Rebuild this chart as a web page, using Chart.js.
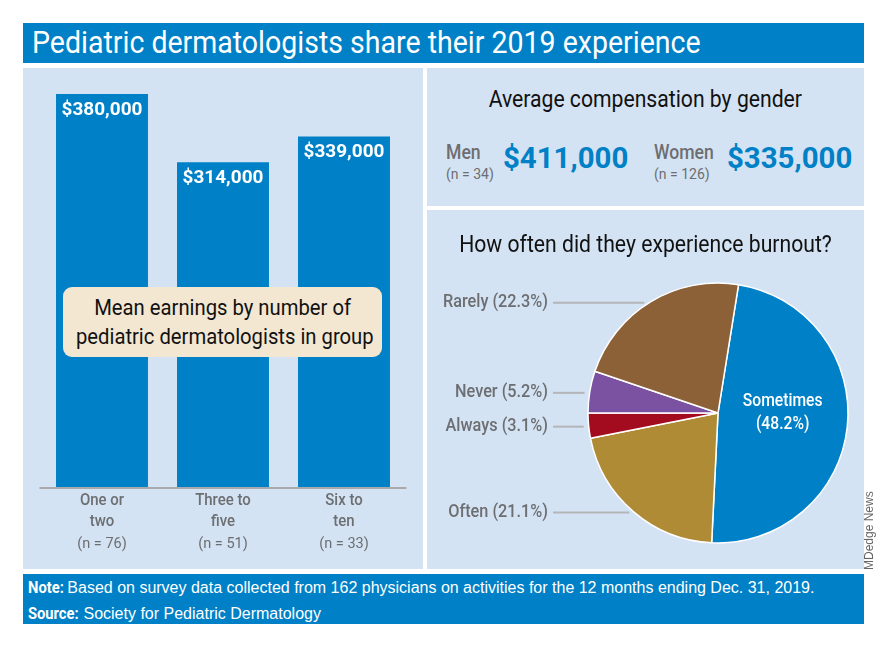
<!DOCTYPE html>
<html>
<head>
<meta charset="utf-8">
<script src="https://cdn.jsdelivr.net/npm/chart.js@4.4.1/dist/chart.umd.min.js"></script>
<style>
body { margin:0; background:#fff; }
#page { position:relative; width:888px; height:648px; overflow:hidden; font-family:Roboto,sans-serif; }
.abs { position:absolute; white-space:nowrap; }
.c { display:inline-block; transform:scaleX(0.92); transform-origin:left center; }
.cc { display:inline-block; transform:scaleX(0.92); transform-origin:center center; }
#title { left:23px; top:23px; width:841px; height:40px; background:#0080c6; color:#fff;
  font-size:31px; line-height:40px; padding-left:9px; box-sizing:border-box; }
.panel { position:absolute; background:#d4e3f3; }
#left { left:23px; top:68px; width:400px; height:501px; }
#rtop { left:427px; top:68px; width:437px; height:138px; }
#rbot { left:427px; top:210px; width:437px; height:359px; }
#foot { left:23px; top:574px; width:841px; height:50px; background:#0080c6; color:#fff;
  font-family:'Liberation Sans',Arial,sans-serif; font-size:16px; }
#foot div { position:absolute; left:5px; white-space:nowrap; }
#foot b { font-family:Roboto,sans-serif; font-weight:bold; display:inline-block; transform:scaleX(0.92); transform-origin:left center; margin-right:-4px; }
#note { left:40px; top:219px; width:319px; height:70px; background:#f3e7d2; border-radius:9px;
  font-size:22px; line-height:29px; text-align:center; color:#111; padding-top:6px; box-sizing:border-box; }
.head { width:437px; text-align:center; color:#111; font-size:23px; }
.glab { color:#6d6e71; font-size:20px; font-weight:500; }
.gn { color:#6d6e71; font-size:14px; }
.gval { color:#0080c6; font-size:30px; font-weight:bold; }
#credit { left:863px; top:570px; transform-origin:0 0; transform:rotate(-90deg);
  font-family:'Liberation Sans',Arial,sans-serif; font-size:12px; line-height:12px; color:#666; }
</style>
</head>
<body>
<div id="page">
  <div id="title" class="abs"><span class="c">Pediatric dermatologists share their 2019 experience</span></div>

  <div id="left" class="panel">
    <canvas id="barChart" width="400" height="501"></canvas>
    <div id="note" class="abs"><span class="cc">Mean earnings by number of</span><br><span class="cc">pediatric dermatologists in group</span></div>
  </div>

  <div id="rtop" class="panel">
    <div class="abs head" style="left:0;top:18px;"><span class="cc">Average compensation by gender</span></div>
    <div id="gender"></div>
  </div>

  <div id="rbot" class="panel">
    <canvas id="pieChart" width="437" height="359"></canvas>
    <div class="abs head" style="left:0;top:21px;"><span class="cc">How often did they experience burnout?</span></div>
  </div>

  <div id="foot" class="abs">
    <div style="top:4px;"><b>Note:</b> Based on survey data collected from 162 physicians on activities for the 12 months ending Dec. 31, 2019.</div>
    <div style="top:30px;"><b>Source:</b> Society for Pediatric Dermatology</div>
  </div>

  <div id="credit" class="abs">MDedge News</div>
</div>

<script>
// mean earnings by group size
var groupLabels = [['One or', 'two'], ['Three to', 'five'], ['Six to', 'ten']];
var groupN = ['(n = 76)', '(n = 51)', '(n = 33)'];
var meanEarnings = [380000, 314000, 339000];

// compensation by gender
var genderLabels = ['Men', 'Women'];
var genderN = ['(n = 34)', '(n = 126)'];
var genderPay = [411000, 335000];

// burnout frequency
var burnoutLabels = ['Sometimes', 'Often', 'Always', 'Never', 'Rarely'];
var burnoutShares = [48.2, 21.1, 3.1, 5.2, 22.3];
var burnoutColors = ['#0080c6', '#b08b36', '#a30b1f', '#7b52a1', '#8d6137'];

function money(v) {
  return '$' + v.toLocaleString('en-US');
}

// condensed text on canvas
function squeezeText(ctx, text, x, y, align, sx) {
  ctx.save();
  ctx.translate(x, y);
  ctx.scale(sx, 1);
  ctx.textAlign = align;
  ctx.fillText(text, 0, 0);
  ctx.restore();
}

// gender row
var genderX = [[19, 76], [227, 300]];
var html = '';
for (var g = 0; g < genderLabels.length; g++) {
  html += '<div class="abs glab" style="left:' + genderX[g][0] + 'px;top:72px;"><span class="c" style="transform:scaleX(0.88)">' + genderLabels[g] + '</span></div>';
  html += '<div class="abs gn" style="left:' + genderX[g][0] + 'px;top:98px;">' + genderN[g] + '</div>';
  html += '<div class="abs gval" style="left:' + genderX[g][1] + 'px;top:72px;"><span class="c" style="transform:scaleX(0.98)">' + money(genderPay[g]) + '</span></div>';
}
document.getElementById('gender').innerHTML = html;

var barText = {
  id: 'barText',
  afterDatasetsDraw: function(chart) {
    var ctx = chart.ctx;
    var area = chart.chartArea;
    var base = chart.scales.y.getPixelForValue(0);
    ctx.save();
    ctx.strokeStyle = '#a7a9ac';
    ctx.lineWidth = 2;
    ctx.beginPath();
    ctx.moveTo(area.left - 2, base + 1);
    ctx.lineTo(area.right + 2, base + 1);
    ctx.stroke();
    ctx.textBaseline = 'middle';
    chart.getDatasetMeta(0).data.forEach(function(bar, i) {
      ctx.fillStyle = '#fff';
      ctx.font = 'bold 19px Roboto';
      squeezeText(ctx, money(meanEarnings[i]), bar.x, bar.y + 16, 'center', 1);
      ctx.fillStyle = '#6d6e71';
      ctx.font = '500 17px Roboto';
      squeezeText(ctx, groupLabels[i][0], bar.x, base + 14, 'center', 0.88);
      squeezeText(ctx, groupLabels[i][1], bar.x, base + 35, 'center', 0.88);
      ctx.font = '14.5px Roboto';
      squeezeText(ctx, groupN[i], bar.x, base + 57, 'center', 1);
    });
    ctx.restore();
  }
};

new Chart(document.getElementById('barChart'), {
  type: 'bar',
  data: {
    labels: groupLabels,
    datasets: [{
      data: meanEarnings,
      backgroundColor: '#0080c6',
      barPercentage: 0.76,
      categoryPercentage: 1
    }]
  },
  options: {
    responsive: false,
    animation: false,
    layout: { padding: { left: 18.5, right: 18.5, top: 5.3, bottom: 82 } },
    scales: {
      x: { display: false },
      y: { display: false, min: 0, max: 400000 }
    },
    plugins: { legend: { display: false }, tooltip: { enabled: false } }
  },
  plugins: [barText]
});

var pieText = {
  id: 'pieText',
  afterDatasetsDraw: function(chart) {
    var ctx = chart.ctx;
    var labelX = 121;
    ctx.save();
    ctx.textBaseline = 'middle';
    chart.getDatasetMeta(0).data.forEach(function(arc, i) {
      var p = arc.getProps(['x', 'y', 'startAngle', 'endAngle', 'outerRadius']);
      var mid = (p.startAngle + p.endAngle) / 2;
      var pct = '(' + burnoutShares[i].toFixed(1) + '%)';
      if (i === 0) {
        var pos = arc.tooltipPosition();
        ctx.fillStyle = '#fff';
        ctx.font = '500 18px Roboto';
        squeezeText(ctx, burnoutLabels[i], pos.x, pos.y - 18, 'center', 0.87);
        squeezeText(ctx, pct, pos.x, pos.y + 5, 'center', 0.87);
        return;
      }
      var y = p.y + Math.sin(mid) * p.outerRadius + 1;
      var dy = y - p.y;
      var edge = p.x - Math.sqrt(Math.max(0, p.outerRadius * p.outerRadius - dy * dy)) - 5;
      ctx.strokeStyle = '#b3b5b8';
      ctx.lineWidth = 2;
      ctx.beginPath();
      ctx.moveTo(labelX + 5, y);
      ctx.lineTo(edge, y);
      ctx.stroke();
      ctx.fillStyle = '#6d6e71';
      ctx.font = '500 18.5px Roboto';
      squeezeText(ctx, burnoutLabels[i] + ' ' + pct, labelX, y, 'right', 0.88);
    });
    ctx.restore();
  }
};

new Chart(document.getElementById('pieChart'), {
  type: 'pie',
  data: {
    labels: burnoutLabels,
    datasets: [{
      data: burnoutShares,
      backgroundColor: burnoutColors,
      borderColor: '#fff',
      borderWidth: 1.5
    }]
  },
  options: {
    responsive: false,
    animation: false,
    rotation: 9.1,
    radius: 130,
    layout: { padding: { left: 155, right: 10, top: 67, bottom: 20 } },
    plugins: { legend: { display: false }, tooltip: { enabled: false } }
  },
  plugins: [pieText]
});
</script>
</body>
</html>
